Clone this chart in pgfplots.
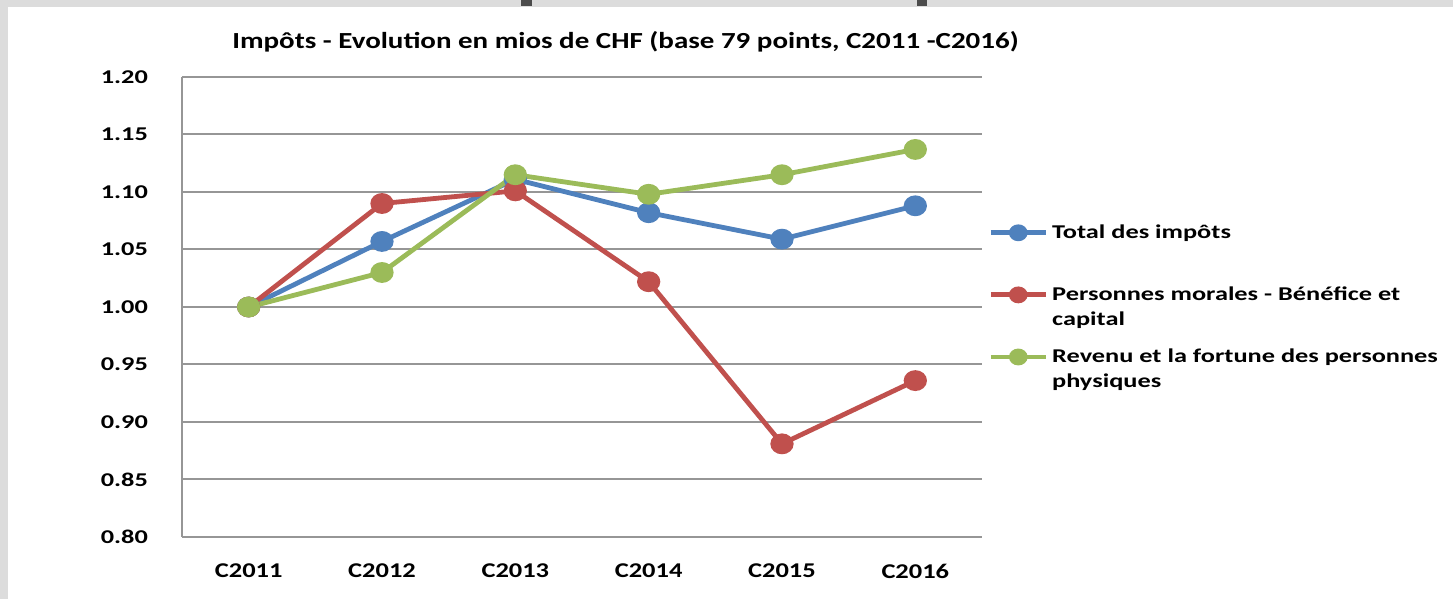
\documentclass[border=0pt]{standalone}
\usepackage{fontspec}
\setmainfont{Carlito}
\newfontfamily\fA{Carlito}[FakeStretch=1.26]
\newfontfamily\fB{Carlito}[FakeStretch=1.35]
\usepackage{pgfplots}
\pgfplotsset{compat=1.18}
\definecolor{cBlue}{HTML}{4F81BD}
\definecolor{cRed}{HTML}{C0504D}
\definecolor{cGreen}{HTML}{9BBB59}
\definecolor{cGrid}{HTML}{969696}
\definecolor{cBg}{HTML}{DCDCDC}
\begin{document}
\begin{tikzpicture}
\useasboundingbox (0,0) rectangle (726.5pt,299.5pt);
\fill[cBg] (0,0) rectangle (726.5pt,299.5pt);
\fill[white] (4pt,0) rectangle (726.5pt,296pt);
\fill[black!70] (260.5pt,296.5pt) rectangle (266pt,299.5pt);
\fill[black!70] (458.5pt,296.5pt) rectangle (463.5pt,299.5pt);
\node[anchor=base, font=\fA\bfseries\fontsize{11.5pt}{13pt}\selectfont] at (312.75pt,275pt) {Impôts - Evolution en mios de CHF (base 79 points, C2011 -C2016)};
\begin{axis}[
  at={(91pt,31pt)}, anchor=south west,
  scale only axis, width=400pt, height=230pt,
  xmin=-0.5, xmax=5.5, ymin=0.8, ymax=1.2,
  xtick={0,1,2,3,4,5},
  xticklabels={C2011,C2012,C2013,C2014,C2015,C2016},
  ytick={0.80,0.85,0.90,0.95,1.00,1.05,1.10,1.15,1.20},
  axis x line*=bottom, axis y line*=left,
  axis line style={cGrid, line width=1pt, -},
  ymajorgrids, grid style={cGrid, line width=1pt},
  major tick length=0pt,
  /pgf/number format/assume math mode=true,
  yticklabel={\pgfmathprintnumber[fixed,fixed zerofill,precision=2]{\tick}},
  yticklabel style={font=\fB\bfseries\fontsize{9.75pt}{11pt}\selectfont, xshift=-13.5pt},
  xticklabel style={font=\fA\bfseries\fontsize{10.5pt}{12pt}\selectfont, yshift=-10pt},
  every axis plot/.append style={line width=2.4pt, mark=*, mark size=4pt, mark options={xscale=1.15, solid}},
  legend image code/.code={\draw[mark repeat=2,mark phase=2,#1,mark size=3pt] plot coordinates {(0pt,0pt)(13.75pt,0pt)(27.5pt,0pt)};},
  legend cell align=left,
  legend style={draw=none, fill=none, at={(1,0.689)}, anchor=north west, xshift=3pt, inner sep=0pt, row sep=18.7pt,
    font=\fB\bfseries\fontsize{9.75pt}{12.5pt}\selectfont, nodes={inner sep=2pt}},
]
\addplot[color=cBlue] coordinates {(0,1.000) (1,1.057) (2,1.111) (3,1.082) (4,1.059) (5,1.088)};
\addlegendentry{Total des impôts}
\addplot[color=cRed] coordinates {(0,1.000) (1,1.090) (2,1.101) (3,1.022) (4,0.881) (5,0.936)};
\addlegendentry{\raisebox{0pt}[\height][0pt]{\vtop{\hbox{Personnes morales - Bénéfice et}\hbox{capital}}}}
\addplot[color=cGreen] coordinates {(0,1.000) (1,1.030) (2,1.115) (3,1.098) (4,1.115) (5,1.137)};
\addlegendentry{\raisebox{0pt}[\height][0pt]{\vtop{\hbox{Revenu et la fortune des personnes}\hbox{physiques}}}}
\end{axis}
\end{tikzpicture}
\end{document}
